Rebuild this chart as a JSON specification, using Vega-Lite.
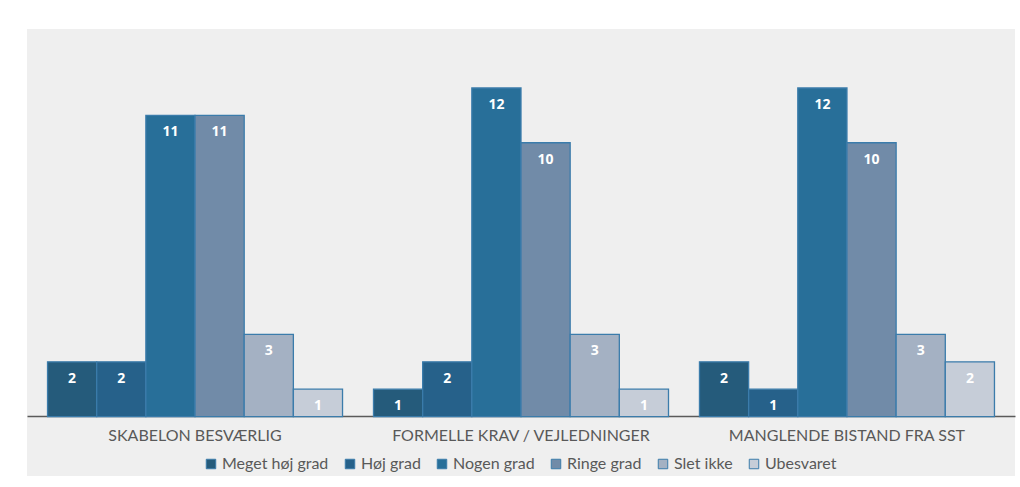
{
  "$schema": "https://vega.github.io/schema/vega-lite/v6.json",
  "width": 988,
  "height": 447,
  "autosize": {"type": "none"},
  "padding": {"left": 27, "top": 29, "right": 5, "bottom": 11},
  "background": "white",
  "config": {
    "view": {"fill": "#efefef", "stroke": null},
    "font": "Lato"
  },
  "data": {
    "values": [
      {"kategori": "SKABELON BESVÆRLIG", "svar": "Meget høj grad", "antal": 2},
      {"kategori": "SKABELON BESVÆRLIG", "svar": "Høj grad", "antal": 2},
      {"kategori": "SKABELON BESVÆRLIG", "svar": "Nogen grad", "antal": 11},
      {"kategori": "SKABELON BESVÆRLIG", "svar": "Ringe grad", "antal": 11},
      {"kategori": "SKABELON BESVÆRLIG", "svar": "Slet ikke", "antal": 3},
      {"kategori": "SKABELON BESVÆRLIG", "svar": "Ubesvaret", "antal": 1},
      {"kategori": "FORMELLE KRAV / VEJLEDNINGER", "svar": "Meget høj grad", "antal": 1},
      {"kategori": "FORMELLE KRAV / VEJLEDNINGER", "svar": "Høj grad", "antal": 2},
      {"kategori": "FORMELLE KRAV / VEJLEDNINGER", "svar": "Nogen grad", "antal": 12},
      {"kategori": "FORMELLE KRAV / VEJLEDNINGER", "svar": "Ringe grad", "antal": 10},
      {"kategori": "FORMELLE KRAV / VEJLEDNINGER", "svar": "Slet ikke", "antal": 3},
      {"kategori": "FORMELLE KRAV / VEJLEDNINGER", "svar": "Ubesvaret", "antal": 1},
      {"kategori": "MANGLENDE BISTAND FRA SST", "svar": "Meget høj grad", "antal": 2},
      {"kategori": "MANGLENDE BISTAND FRA SST", "svar": "Høj grad", "antal": 1},
      {"kategori": "MANGLENDE BISTAND FRA SST", "svar": "Nogen grad", "antal": 12},
      {"kategori": "MANGLENDE BISTAND FRA SST", "svar": "Ringe grad", "antal": 10},
      {"kategori": "MANGLENDE BISTAND FRA SST", "svar": "Slet ikke", "antal": 3},
      {"kategori": "MANGLENDE BISTAND FRA SST", "svar": "Ubesvaret", "antal": 2}
    ]
  },
  "encoding": {
    "x": {
      "field": "kategori",
      "type": "nominal",
      "sort": ["SKABELON BESVÆRLIG", "FORMELLE KRAV / VEJLEDNINGER", "MANGLENDE BISTAND FRA SST"],
      "scale": {"paddingInner": 0.095, "paddingOuter": 0.063},
      "axis": {
        "title": null,
        "orient": "bottom",
        "offset": -60,
        "labelAngle": 0,
        "ticks": false,
        "domainColor": "#5a5a5a",
        "domainWidth": 1.5,
        "labelColor": "#595959",
        "labelFontSize": 16,
        "labelPadding": 11,
        "labelLimit": 0,
        "labelFont": "Lato"
      }
    },
    "xOffset": {
      "field": "svar",
      "type": "nominal",
      "sort": ["Meget høj grad", "Høj grad", "Nogen grad", "Ringe grad", "Slet ikke", "Ubesvaret"],
      "scale": {"paddingInner": 0, "paddingOuter": 0}
    },
    "y": {
      "field": "antal",
      "type": "quantitative",
      "scale": {"domain": [-2.17, 14.155], "nice": false, "zero": false},
      "axis": null
    }
  },
  "layer": [
    {
      "mark": {"type": "bar", "stroke": "#3b7cab", "strokeWidth": 1.3},
      "encoding": {
        "y2": {"datum": 0},
        "color": {
          "field": "svar",
          "type": "nominal",
          "sort": ["Meget høj grad", "Høj grad", "Nogen grad", "Ringe grad", "Slet ikke", "Ubesvaret"],
          "scale": {
            "domain": ["Meget høj grad", "Høj grad", "Nogen grad", "Ringe grad", "Slet ikke", "Ubesvaret"],
            "range": ["#255b7b", "#26618a", "#286f99", "#718ba8", "#a4b1c3", "#c6cdd8"]
          },
          "legend": {
            "title": null,
            "orient": "none",
            "direction": "horizontal",
            "legendX": 176,
            "legendY": 427,
            "symbolType": "square",
            "symbolSize": 90,
            "symbolStrokeColor": "#3b7cab",
            "symbolStrokeWidth": 1,
            "labelFontSize": 16,
            "labelColor": "#595959",
            "labelOffset": 3,
            "columnPadding": 13,
            "labelFont": "Lato"
          }
        }
      }
    },
    {
      "mark": {"type": "text", "color": "white", "fontWeight": "bold", "fontSize": 14, "baseline": "middle", "dy": 17, "font": "Open Sans"},
      "encoding": {
        "text": {"field": "antal", "type": "quantitative"}
      }
    }
  ]
}
